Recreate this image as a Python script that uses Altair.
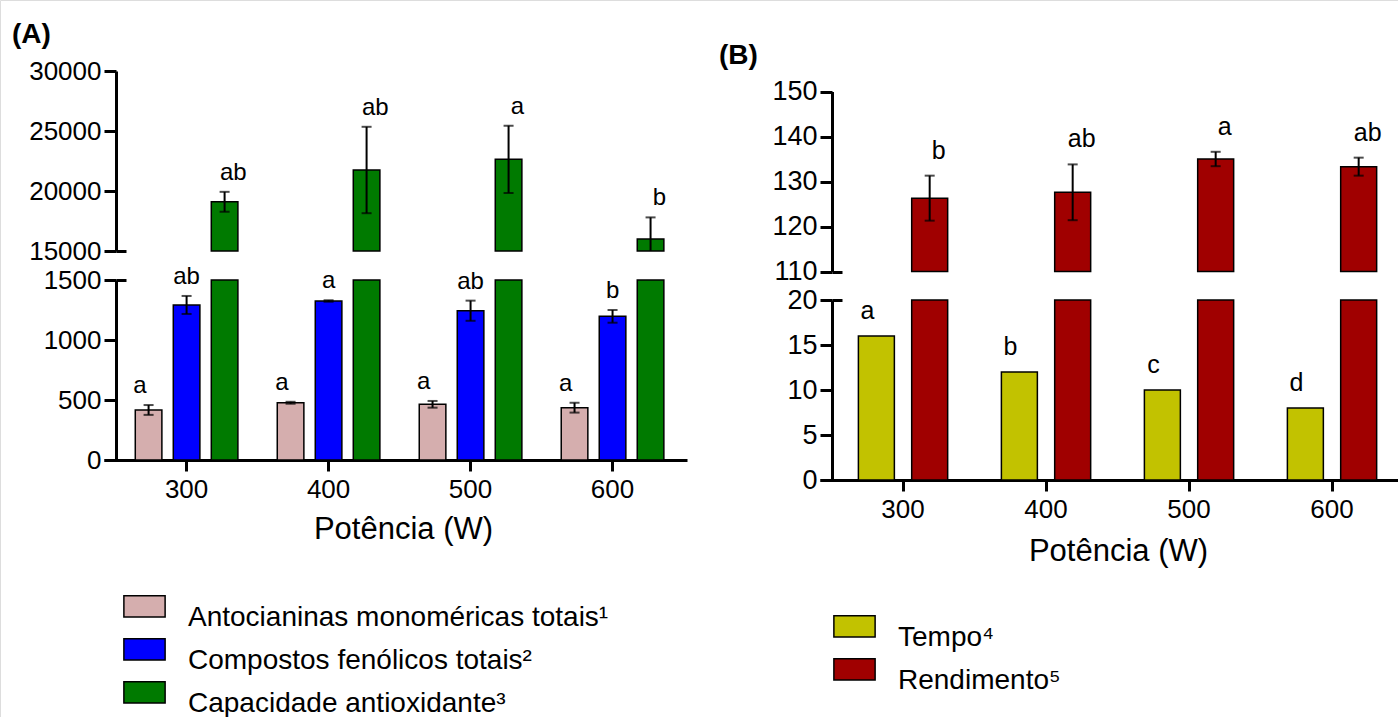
import altair as alt
import pandas as pd

W, H = 1398, 717

powers = ["300", "400", "500", "600"]

# ---------- Panel A ----------
series_a = ["Antocianinas monoméricas totais¹", "Compostos fenólicos totais²", "Capacidade antioxidante³"]
colors_a = ["#D5AEAE", "#0000FF", "#007A00"]
antho = [417, 477, 464, 436]
antho_err = [41, 8, 28, 41]
antho_let = ["a", "a", "a", "a"]
fenol = [1292, 1325, 1244, 1197]
fenol_err = [75, 6, 84, 53]
fenol_let = ["ab", "a", "ab", "b"]
antiox = [19100, 21750, 22640, 16000]
antiox_err = [830, 3600, 2800, 1800]
antiox_let = ["ab", "ab", "a", "b"]

# ---------- Panel B ----------
series_b = ["Tempo⁴", "Rendimento⁵"]
colors_b = ["#C2C200", "#A00000"]
tempo = [16, 12, 10, 8]
tempo_err = [0, 0, 0, 0]
tempo_let = ["a", "b", "c", "d"]
rend = [126.3, 127.6, 135.0, 133.3]
rend_err = [5.0, 6.2, 1.6, 2.0]
rend_let = ["b", "ab", "a", "ab"]

tags = ["(A)", "(B)"]
x_title = "Potência (W)"


def table(names, vals, errs, lets):
    frames = []
    for n, v, e, l in zip(names, vals, errs, lets):
        frames.append(pd.DataFrame({"power": powers, "series": n, "value": v, "err": e, "letter": l}))
    return pd.concat(frames, ignore_index=True)


dfA = table(series_a, [antho, fenol, antiox], [antho_err, fenol_err, antiox_err], [antho_let, fenol_let, antiox_let])
dfB = table(series_b, [tempo, rend], [tempo_err, rend_err], [tempo_let, rend_let])

FONT = "Liberation Sans"
RECT = "M-1,-1.05H1V-0.03H-1Z"

PANEL = {
    "A": dict(df=dfA, series=series_a, colors=colors_a,
              x=dict(range=[104, 687], paddingOuter=0.053, align=0.77),
              off=dict(range=[0, 142], paddingInner=0.30, paddingOuter=0.518),
              axis_x=116, base_y=460, title_x=403, title_y=78, ylab=26,
              letter=24, letter_dy=-12, legend_x=123, legend_y=596),
    "B": dict(df=dfB, series=series_b, colors=colors_b,
              x=dict(range=[820, 1404], paddingOuter=0.042, align=0.96),
              off=dict(range=[0, 143], paddingInner=0.325, paddingOuter=0.504),
              axis_x=832, base_y=480, title_x=1118, title_y=80, ylab=27,
              letter=25, letter_dy=-17, legend_x=833, legend_y=616),
}

SEG = {
    "A_up": dict(panel="A", domain=[15000, 30000], range=[251, 71], ticks=[15000, 20000, 25000, 30000], brk=15000),
    "A_lo": dict(panel="A", domain=[0, 1500], range=[460, 280], ticks=[0, 500, 1000, 1500], brk=1500),
    "B_up": dict(panel="B", domain=[110, 150], range=[271.5, 91.5], ticks=[110, 120, 130, 140, 150], brk=110),
    "B_lo": dict(panel="B", domain=[0, 20], range=[480, 300], ticks=[0, 5, 10, 15, 20], brk=20),
}


def segment(seg, keep, errors, legend=False, x_axis=False, text_series=None):
    S = SEG[seg]
    P = PANEL[S["panel"]]

    def ysc():
        return alt.Scale(domain=S["domain"], range=S["range"], clamp=True, nice=False, zero=False)

    def xenc(show):
        ax = None
        if show:
            ax = alt.Axis(orient="bottom", offset=P["base_y"] - H, title=x_title,
                          titleX=P["title_x"], titleY=P["title_y"], titleBaseline="alphabetic",
                          titleFontSize=31, titleFontWeight="normal", titleFont=FONT, titleColor="black",
                          labelFontSize=26, labelFont=FONT, labelColor="black", labelAngle=0, labelPadding=5,
                          tickSize=11, tickWidth=3, tickColor="black", domainWidth=3, domainColor="black",
                          grid=False)
        return alt.X("power:N", scale=alt.Scale(domain=powers, paddingInner=0, **P["x"]), axis=ax)

    xo = alt.XOffset("series:N", scale=alt.Scale(domain=P["series"], **P["off"]))

    main_axis = alt.Axis(orient="left", offset=-P["axis_x"], values=S["ticks"], title=None, format="d",
                         labelFontSize=P["ylab"], labelFont=FONT, labelColor="black", labelPadding=3,
                         tickSize=12, tickWidth=3, tickColor="black", domainWidth=3, domainColor="black",
                         grid=False, labelFlush=False, labelOverlap=False)
    brk_axis = alt.Axis(orient="right", offset=P["axis_x"] - W, values=[S["brk"]], labels=False,
                        domain=False, tickSize=10, tickWidth=3, tickColor="black", title=None, grid=False)

    base = alt.Chart(P["df"]).transform_filter(
        alt.FieldOneOfPredicate(field="series", oneOf=keep)
    ).transform_calculate(lo="datum.value - datum.err", hi="datum.value + datum.err")

    leg = None
    if legend:
        leg = alt.Legend(orient="none", legendX=P["legend_x"], legendY=P["legend_y"], title=None,
                         symbolType=RECT, symbolSize=1700, symbolStrokeColor="black", symbolStrokeWidth=1.5,
                         symbolOpacity=1, labelFontSize=28, labelFont=FONT, labelColor="black",
                         labelBaseline="middle", labelOffset=22, rowPadding=3, labelLimit=900,
                         direction="vertical", padding=0)

    layers = [
        base.mark_bar(stroke="black", strokeWidth=1.5, opacity=1).encode(
            x=xenc(x_axis), xOffset=xo,
            y=alt.Y("value:Q", scale=ysc(), axis=main_axis),
            y2=alt.datum(0),
            color=alt.Color("series:N", scale=alt.Scale(domain=P["series"], range=P["colors"]), legend=leg),
        )
    ]
    if errors:
        ebase = base.transform_filter(alt.FieldOneOfPredicate(field="series", oneOf=errors))
        layers.append(ebase.mark_rule(color="black", strokeWidth=2).encode(
            x=xenc(False), xOffset=xo,
            y=alt.Y("lo:Q", scale=ysc(), axis=brk_axis), y2="hi:Q"))
        layers.append(ebase.mark_tick(color="black", thickness=2, size=10, orient="horizontal").encode(
            x=xenc(False), xOffset=xo, y=alt.Y("hi:Q", scale=ysc(), axis=None)))
        layers.append(ebase.transform_filter(alt.datum.lo >= S["domain"][0]).mark_tick(
            color="black", thickness=2, size=10, orient="horizontal").encode(
            x=xenc(False), xOffset=xo, y=alt.Y("lo:Q", scale=ysc(), axis=None)))
    tb = base if text_series is None else base.transform_filter(
        alt.FieldOneOfPredicate(field="series", oneOf=text_series))
    layers.append(tb.mark_text(font=FONT, fontSize=P["letter"], baseline="alphabetic", dy=P["letter_dy"],
                               color="black").encode(
        x=xenc(False), xOffset=xo,
        y=alt.Y("hi:Q", scale=ysc(), axis=None if errors else brk_axis),
        text="letter:N"))
    return layers


layers = []
layers += segment("A_up", [series_a[2]], [series_a[2]])
layers += segment("A_lo", series_a, series_a[:2], legend=True, x_axis=True, text_series=series_a[:2])
layers += segment("B_up", [series_b[1]], [series_b[1]])
layers += segment("B_lo", series_b, None, legend=True, x_axis=True, text_series=[series_b[0]])

tagA = alt.Chart(pd.DataFrame({"tag": [tags[0]]})).mark_text(
    font=FONT, fontSize=28, fontWeight="bold", align="left", baseline="alphabetic", color="black"
).encode(x=alt.value(12), y=alt.value(43), text="tag:N")
tagB = alt.Chart(pd.DataFrame({"tag": [tags[1]]})).mark_text(
    font=FONT, fontSize=28, fontWeight="bold", align="left", baseline="alphabetic", color="black"
).encode(x=alt.value(719), y=alt.value(64), text="tag:N")

chart = alt.layer(tagA, tagB, *layers).resolve_scale(
    x="independent", y="independent", xOffset="independent", color="independent"
).resolve_axis(x="independent", y="independent").resolve_legend(color="independent").properties(
    width=W, height=H, autosize=alt.AutoSizeParams(type="none"), padding=0
).configure_view(stroke=None).configure(font=FONT, background="white")

chart.save("out.html", embed_options={"renderer": "svg", "actions": False})
